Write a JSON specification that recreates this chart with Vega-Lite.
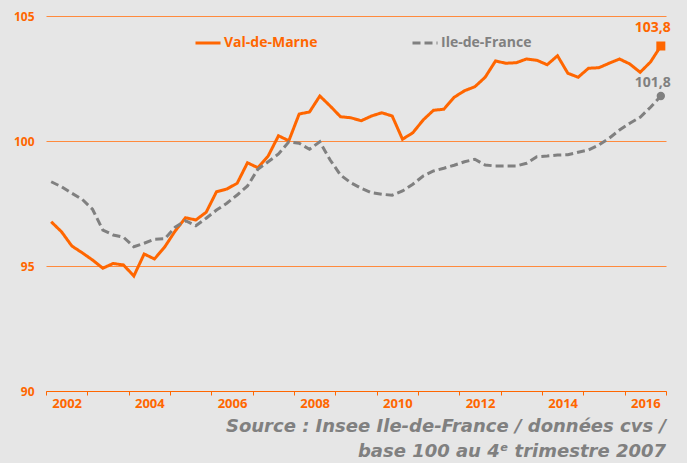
{
  "$schema": "https://vega.github.io/schema/vega-lite/v6.json",
  "width": 620,
  "height": 375,
  "autosize": {"type": "none"},
  "padding": {"left": 46, "top": 16, "right": 21, "bottom": 72},
  "background": "#E6E6E6",
  "config": {
    "view": {"stroke": null},
    "font": "Open Sans"
  },
  "title": {
    "text": ["Source : Insee Ile-de-France / données cvs /", "base 100 au 4ᵉ trimestre 2007"],
    "orient": "bottom",
    "anchor": "end",
    "frame": "group",
    "offset": 8,
    "font": "DejaVu Sans",
    "fontSize": 18,
    "fontStyle": "italic",
    "fontWeight": "bold",
    "color": "#808080",
    "lineHeight": 25
  },
  "datasets": {
    "series": [
      {"s":"Val-de-Marne","t":2002.125,"v":96.77},{"s":"Val-de-Marne","t":2002.375,"v":96.37},{"s":"Val-de-Marne","t":2002.625,"v":95.80},{"s":"Val-de-Marne","t":2002.875,"v":95.53},
      {"s":"Val-de-Marne","t":2003.125,"v":95.24},{"s":"Val-de-Marne","t":2003.375,"v":94.91},{"s":"Val-de-Marne","t":2003.625,"v":95.10},{"s":"Val-de-Marne","t":2003.875,"v":95.04},
      {"s":"Val-de-Marne","t":2004.125,"v":94.60},{"s":"Val-de-Marne","t":2004.375,"v":95.48},{"s":"Val-de-Marne","t":2004.625,"v":95.28},{"s":"Val-de-Marne","t":2004.875,"v":95.77},
      {"s":"Val-de-Marne","t":2005.125,"v":96.40},{"s":"Val-de-Marne","t":2005.375,"v":96.93},{"s":"Val-de-Marne","t":2005.625,"v":96.84},{"s":"Val-de-Marne","t":2005.875,"v":97.15},
      {"s":"Val-de-Marne","t":2006.125,"v":97.97},{"s":"Val-de-Marne","t":2006.375,"v":98.08},{"s":"Val-de-Marne","t":2006.625,"v":98.31},{"s":"Val-de-Marne","t":2006.875,"v":99.13},
      {"s":"Val-de-Marne","t":2007.125,"v":98.93},{"s":"Val-de-Marne","t":2007.375,"v":99.40},{"s":"Val-de-Marne","t":2007.625,"v":100.21},{"s":"Val-de-Marne","t":2007.875,"v":100.01},
      {"s":"Val-de-Marne","t":2008.125,"v":101.08},{"s":"Val-de-Marne","t":2008.375,"v":101.16},{"s":"Val-de-Marne","t":2008.625,"v":101.80},{"s":"Val-de-Marne","t":2008.875,"v":101.40},
      {"s":"Val-de-Marne","t":2009.125,"v":100.97},{"s":"Val-de-Marne","t":2009.375,"v":100.93},{"s":"Val-de-Marne","t":2009.625,"v":100.81},{"s":"Val-de-Marne","t":2009.875,"v":101.00},
      {"s":"Val-de-Marne","t":2010.125,"v":101.13},{"s":"Val-de-Marne","t":2010.375,"v":101.00},{"s":"Val-de-Marne","t":2010.625,"v":100.07},{"s":"Val-de-Marne","t":2010.875,"v":100.33},
      {"s":"Val-de-Marne","t":2011.125,"v":100.84},{"s":"Val-de-Marne","t":2011.375,"v":101.23},{"s":"Val-de-Marne","t":2011.625,"v":101.27},{"s":"Val-de-Marne","t":2011.875,"v":101.75},
      {"s":"Val-de-Marne","t":2012.125,"v":102.01},{"s":"Val-de-Marne","t":2012.375,"v":102.17},{"s":"Val-de-Marne","t":2012.625,"v":102.55},{"s":"Val-de-Marne","t":2012.875,"v":103.20},
      {"s":"Val-de-Marne","t":2013.125,"v":103.11},{"s":"Val-de-Marne","t":2013.375,"v":103.13},{"s":"Val-de-Marne","t":2013.625,"v":103.28},{"s":"Val-de-Marne","t":2013.875,"v":103.23},
      {"s":"Val-de-Marne","t":2014.125,"v":103.05},{"s":"Val-de-Marne","t":2014.375,"v":103.41},{"s":"Val-de-Marne","t":2014.625,"v":102.71},{"s":"Val-de-Marne","t":2014.875,"v":102.55},
      {"s":"Val-de-Marne","t":2015.125,"v":102.91},{"s":"Val-de-Marne","t":2015.375,"v":102.93},{"s":"Val-de-Marne","t":2015.625,"v":103.11},{"s":"Val-de-Marne","t":2015.875,"v":103.28},
      {"s":"Val-de-Marne","t":2016.125,"v":103.08},{"s":"Val-de-Marne","t":2016.375,"v":102.75},{"s":"Val-de-Marne","t":2016.625,"v":103.16},{"s":"Val-de-Marne","t":2016.875,"v":103.80},
      {"s":"Ile-de-France","t":2002.125,"v":98.37},{"s":"Ile-de-France","t":2002.375,"v":98.17},{"s":"Ile-de-France","t":2002.625,"v":97.91},{"s":"Ile-de-France","t":2002.875,"v":97.67},
      {"s":"Ile-de-France","t":2003.125,"v":97.27},{"s":"Ile-de-France","t":2003.375,"v":96.44},{"s":"Ile-de-France","t":2003.625,"v":96.24},{"s":"Ile-de-France","t":2003.875,"v":96.15},
      {"s":"Ile-de-France","t":2004.125,"v":95.77},{"s":"Ile-de-France","t":2004.375,"v":95.91},{"s":"Ile-de-France","t":2004.625,"v":96.07},{"s":"Ile-de-France","t":2004.875,"v":96.09},
      {"s":"Ile-de-France","t":2005.125,"v":96.55},{"s":"Ile-de-France","t":2005.375,"v":96.81},{"s":"Ile-de-France","t":2005.625,"v":96.61},{"s":"Ile-de-France","t":2005.875,"v":96.91},
      {"s":"Ile-de-France","t":2006.125,"v":97.24},{"s":"Ile-de-France","t":2006.375,"v":97.51},{"s":"Ile-de-France","t":2006.625,"v":97.84},{"s":"Ile-de-France","t":2006.875,"v":98.20},
      {"s":"Ile-de-France","t":2007.125,"v":98.87},{"s":"Ile-de-France","t":2007.375,"v":99.17},{"s":"Ile-de-France","t":2007.625,"v":99.48},{"s":"Ile-de-France","t":2007.875,"v":99.97},
      {"s":"Ile-de-France","t":2008.125,"v":99.91},{"s":"Ile-de-France","t":2008.375,"v":99.67},{"s":"Ile-de-France","t":2008.625,"v":99.97},{"s":"Ile-de-France","t":2008.875,"v":99.24},
      {"s":"Ile-de-France","t":2009.125,"v":98.64},{"s":"Ile-de-France","t":2009.375,"v":98.33},{"s":"Ile-de-France","t":2009.625,"v":98.11},{"s":"Ile-de-France","t":2009.875,"v":97.93},
      {"s":"Ile-de-France","t":2010.125,"v":97.87},{"s":"Ile-de-France","t":2010.375,"v":97.83},{"s":"Ile-de-France","t":2010.625,"v":98.00},{"s":"Ile-de-France","t":2010.875,"v":98.27},
      {"s":"Ile-de-France","t":2011.125,"v":98.60},{"s":"Ile-de-France","t":2011.375,"v":98.80},{"s":"Ile-de-France","t":2011.625,"v":98.91},{"s":"Ile-de-France","t":2011.875,"v":99.03},
      {"s":"Ile-de-France","t":2012.125,"v":99.17},{"s":"Ile-de-France","t":2012.375,"v":99.27},{"s":"Ile-de-France","t":2012.625,"v":99.04},{"s":"Ile-de-France","t":2012.875,"v":99.00},
      {"s":"Ile-de-France","t":2013.125,"v":99.00},{"s":"Ile-de-France","t":2013.375,"v":99.00},{"s":"Ile-de-France","t":2013.625,"v":99.11},{"s":"Ile-de-France","t":2013.875,"v":99.37},
      {"s":"Ile-de-France","t":2014.125,"v":99.40},{"s":"Ile-de-France","t":2014.375,"v":99.44},{"s":"Ile-de-France","t":2014.625,"v":99.45},{"s":"Ile-de-France","t":2014.875,"v":99.55},
      {"s":"Ile-de-France","t":2015.125,"v":99.64},{"s":"Ile-de-France","t":2015.375,"v":99.84},{"s":"Ile-de-France","t":2015.625,"v":100.11},{"s":"Ile-de-France","t":2015.875,"v":100.44},
      {"s":"Ile-de-France","t":2016.125,"v":100.71},{"s":"Ile-de-France","t":2016.375,"v":100.95},{"s":"Ile-de-France","t":2016.625,"v":101.35},{"s":"Ile-de-France","t":2016.875,"v":101.80}
    ],
    "ends": [
      {"s":"Val-de-Marne","t":2016.875,"v":103.8,"label":"103,8"},
      {"s":"Ile-de-France","t":2016.875,"v":101.8,"label":"101,8"}
    ]
  },
  "layer": [
    {
      "data": {"name": "series"},
      "mark": {"type": "line", "strokeWidth": 3},
      "encoding": {
        "x": {
          "field": "t", "type": "quantitative",
          "scale": {"domain": [2002, 2017], "nice": false, "zero": false},
          "axis": {
            "title": null,
            "values": [2002,2003,2004,2005,2006,2007,2008,2009,2010,2011,2012,2013,2014,2015,2016,2017],
            "format": "d",
            "labelExpr": "datum.value % 2 === 0 && datum.value < 2017 ? datum.label : ''",
            "labelOffset": 20.67,
            "labelOverlap": false,
            "labelBound": false,
            "labelFlush": false,
            "grid": false,
            "domainColor": "#FF6600",
            "domainWidth": 1,
            "tickColor": "#FF6600",
            "tickSize": 4,
            "labelColor": "#FF6600",
            "labelFont": "Open Sans",
            "labelFontSize": 13,
            "labelFontWeight": "bold",
            "labelPadding": 2
          }
        },
        "y": {
          "field": "v", "type": "quantitative",
          "scale": {"domain": [90, 105], "nice": false, "zero": false},
          "axis": {
            "title": null,
            "values": [90, 95, 100, 105],
            "domain": false,
            "ticks": false,
            "grid": true,
            "gridColor": "#FF8A3D",
            "gridWidth": 1,
            "labelColor": "#FF6600",
            "labelFont": "Open Sans",
            "labelFontSize": 12,
            "labelFontWeight": "bold",
            "labelPadding": 12
          }
        },
        "color": {
          "field": "s", "type": "nominal",
          "scale": {"domain": ["Val-de-Marne", "Ile-de-France"], "range": ["#FF6600", "#808080"]},
          "legend": {
            "title": null,
            "orient": "none",
            "legendX": 148,
            "legendY": 13,
            "direction": "horizontal",
            "symbolType": "stroke",
            "symbolSize": 625,
            "symbolStrokeWidth": 3,
            "labelFont": "Open Sans",
            "labelFontSize": 14,
            "labelFontWeight": "bold",
            "labelOffset": 2,
            "columnPadding": 88,
            "labelLimit": 200,
            "encode": {
              "labels": {"update": {"fill": {"signal": "datum.label === 'Val-de-Marne' ? '#FF6600' : '#808080'"}}}
            }
          }
        },
        "strokeDash": {
          "field": "s", "type": "nominal",
          "scale": {"domain": ["Val-de-Marne", "Ile-de-France"], "range": [[1, 0], [8, 4]]},
          "legend": {
            "title": null,
            "orient": "none",
            "legendX": 148,
            "legendY": 13,
            "direction": "horizontal",
            "symbolType": "stroke",
            "symbolSize": 625,
            "symbolStrokeWidth": 3,
            "labelFont": "Open Sans",
            "labelFontSize": 14,
            "labelFontWeight": "bold",
            "labelOffset": 2,
            "columnPadding": 88,
            "labelLimit": 200
          }
        }
      }
    },
    {
      "data": {"name": "ends"},
      "transform": [{"filter": "datum.s === 'Val-de-Marne'"}],
      "mark": {"type": "point", "shape": "square", "filled": true, "size": 81, "color": "#FF6600", "opacity": 1},
      "encoding": {
        "x": {"field": "t", "type": "quantitative"},
        "y": {"field": "v", "type": "quantitative"}
      }
    },
    {
      "data": {"name": "ends"},
      "transform": [{"filter": "datum.s === 'Ile-de-France'"}],
      "mark": {"type": "point", "shape": "circle", "filled": true, "size": 70, "color": "#808080", "opacity": 1},
      "encoding": {
        "x": {"field": "t", "type": "quantitative"},
        "y": {"field": "v", "type": "quantitative"}
      }
    },
    {
      "data": {"name": "ends"},
      "transform": [{"filter": "datum.s === 'Val-de-Marne'"}],
      "mark": {"type": "text", "color": "#FF6600", "font": "Open Sans", "fontSize": 14, "fontWeight": "bold", "align": "center", "baseline": "alphabetic", "dx": -8, "dy": -14},
      "encoding": {
        "x": {"field": "t", "type": "quantitative"},
        "y": {"field": "v", "type": "quantitative"},
        "text": {"field": "label"}
      }
    },
    {
      "data": {"name": "ends"},
      "transform": [{"filter": "datum.s === 'Ile-de-France'"}],
      "mark": {"type": "text", "color": "#808080", "font": "Open Sans", "fontSize": 14, "fontWeight": "bold", "align": "center", "baseline": "alphabetic", "dx": -8, "dy": -9},
      "encoding": {
        "x": {"field": "t", "type": "quantitative"},
        "y": {"field": "v", "type": "quantitative"},
        "text": {"field": "label"}
      }
    }
  ]
}
